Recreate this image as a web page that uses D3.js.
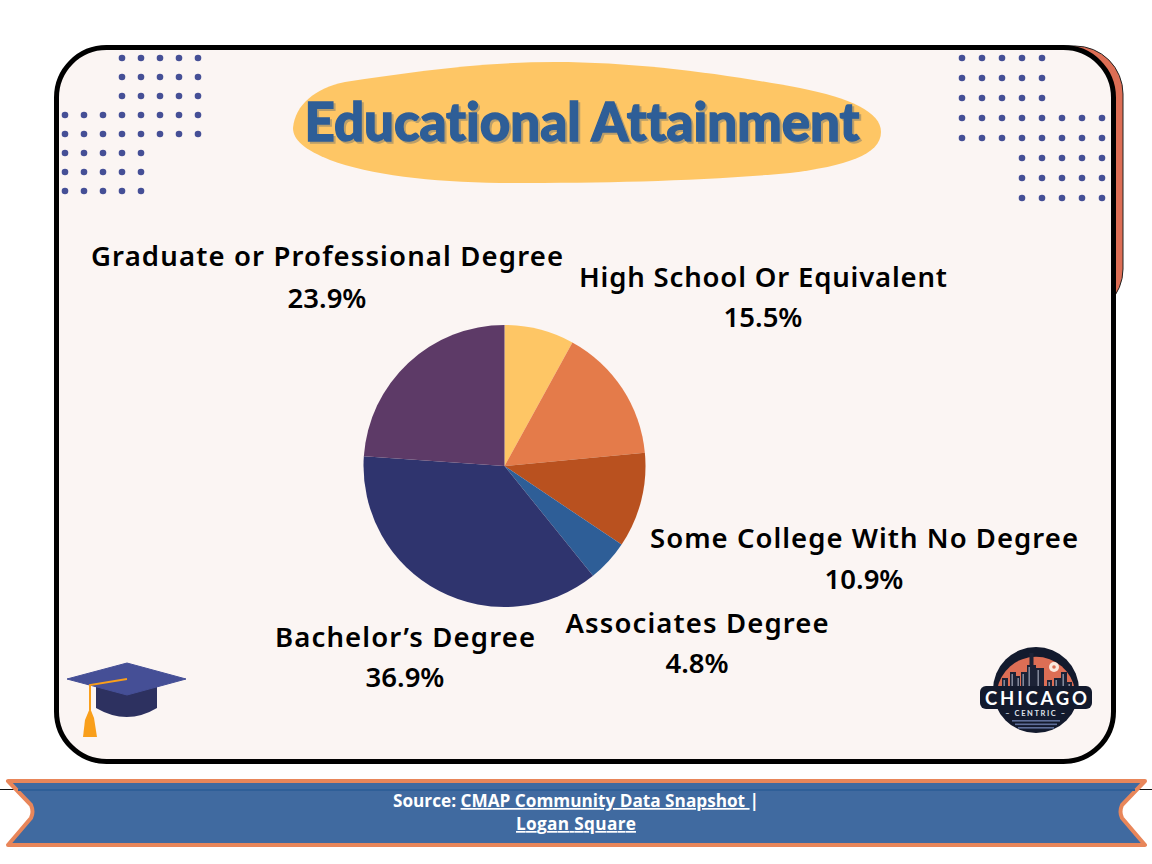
<!DOCTYPE html>
<html>
<head>
<meta charset="utf-8">
<script src="https://cdn.jsdelivr.net/npm/d3@7"></script>
<style>
  html, body { margin: 0; padding: 0; background: #fff; }
  svg { display: block; }
</style>
</head>
<body>
<svg id="chart" width="1152" height="864"></svg>
<script>
const categories = ['Less Than High School', 'High School Or Equivalent', 'Some College With No Degree', 'Associates Degree', 'Bachelor\u2019s Degree', 'Graduate or Professional Degree'];
const shares = [8.0, 15.5, 10.9, 4.8, 36.9, 23.9];
const sliceColors = ['#fec665', '#e47b4a', '#b9511f', '#2e5e97', '#2f346e', '#5d3a67'];
const shownLabels = [false, true, true, true, true, true];

const svg = d3.select('#chart');
const FONT = '"Noto Sans", Lato, sans-serif';

// card behind + card
svg.append('rect').attr('x', 900).attr('y', 46).attr('width', 223).attr('height', 271).attr('rx', 48)
    .attr('fill', '#dd6e55').attr('stroke', '#222').attr('stroke-width', 1);
svg.append('rect').attr('x', 56.5).attr('y', 47.5).attr('width', 1057).attr('height', 714).attr('rx', 50)
    .attr('fill', '#fbf5f3').attr('stroke', '#000').attr('stroke-width', 5);

// dot grids
function dots(x0, y0, step, cells) {
    const x = d3.scaleLinear().domain([0, 1]).range([x0, x0 + step]);
    const y = d3.scaleLinear().domain([0, 1]).range([y0, y0 + step]);
    svg.append('g').selectAll('circle').data(cells).join('circle')
        .attr('cx', d => x(d[1])).attr('cy', d => y(d[0])).attr('r', 3.3).attr('fill', '#454f96');
}
const leftCols = [[3, 7], [3, 7], [3, 7], [0, 7], [0, 7], [0, 4], [0, 4], [0, 4]];
const rightCols = [[0, 4], [0, 4], [0, 4], [0, 7], [0, 7], [3, 7], [3, 7], [3, 7]];
const toCells = cols => cols.flatMap((c, r) => d3.range(c[0], c[1] + 1).map(i => [r, i]));
dots(65, 58, 19, toCells(leftCols));
dots(962, 58, 20, toCells(rightCols));

// title blob
svg.append('path')
    .attr('d', 'M293,128 C295,105 315,88 345,82 C410,72 480,62 555,62 C640,62 730,75 800,88 C850,98 881,112 881,132 C881,155 845,166 790,173 C700,181 610,183 500,183 C430,182 370,175 330,160 C305,150 293,140 293,128 Z')
    .attr('fill', '#fec665');

svg.append('text').attr('x', 582).attr('y', 141)
    .attr('text-anchor', 'middle').attr('font-family', 'Lato, sans-serif').attr('font-weight', 900)
    .attr('font-size', 53).attr('textLength', 555).attr('lengthAdjust', 'spacingAndGlyphs')
    .attr('fill', '#2e5e97').attr('stroke', '#2e5e97').attr('stroke-width', 1.3)
    .style('font-variant-ligatures', 'none')
    .style('filter', 'drop-shadow(2.5px 2.5px 0 rgba(130,125,110,0.55))')
    .text('Educational Attainment');

// pie
const pie = d3.pie().sort(null).value(d => d)(shares);
const arc = d3.arc().innerRadius(0).outerRadius(141);
svg.append('g').attr('transform', 'translate(504.5,466)')
    .selectAll('path').data(pie).join('path')
    .attr('d', arc).attr('fill', (d, i) => sliceColors[i]);

// labels
const labelSpots = [null, [763, 287, 327], [864, 548, 589], [697, 633, 673], [405, 647, 687], [327, 266, 308]];
const labelWidths = [0, 368, 428, 263, 260, 472];
const labels = svg.append('g').attr('font-family', FONT).attr('font-weight', 600).attr('font-size', 27.5)
    .attr('text-anchor', 'middle').attr('fill', '#000');
categories.forEach((c, i) => {
    if (!shownLabels[i]) return;
    const p = labelSpots[i];
    labels.append('text').attr('x', p[0]).attr('y', p[1]).attr('textLength', labelWidths[i]).text(c);
    labels.append('text').attr('x', p[0]).attr('y', p[2]).text(shares[i].toFixed(1) + '%');
});

// grad cap
const cap = svg.append('g');
cap.append('path').attr('d', 'M96,686 L157,686 L157,708 Q127,726 96,708 Z').attr('fill', '#2d3160');
cap.append('path').attr('d', 'M67,679 L127,663 L186,679 L127,695 Z').attr('fill', '#454f96')
    .attr('stroke', '#454f96').attr('stroke-width', 1).attr('stroke-linejoin', 'round');
cap.append('path').attr('d', 'M127,679 L90,685 L90,710').attr('fill', 'none').attr('stroke', '#f99f1b').attr('stroke-width', 2);
cap.append('path').attr('d', 'M90,708 L94,718 L97,737 L83,737 L85,720 Z').attr('fill', '#f99f1b');

// logo
const logo = svg.append('g');
logo.append('circle').attr('cx', 1036).attr('cy', 690).attr('r', 43).attr('fill', '#131a2d');
logo.append('path').attr('d', 'M997,690 A39.5,39.5 0 0 1 1075,690 Z').attr('fill', '#dd6e55');
const towers = [[1002, 678, 6], [1010, 672, 6], [1016, 676, 4], [1021, 672, 6], [1027, 665, 9], [1036, 668, 8], [1047, 680, 5], [1054, 678, 7], [1061, 672, 6], [1067, 682, 5]];
logo.append('g').selectAll('rect').data(towers).join('rect')
    .attr('x', d => d[0]).attr('y', d => d[1]).attr('width', d => d[2]).attr('height', d => 688 - d[1]).attr('fill', '#1c2236');
logo.append('g').selectAll('rect').data(towers).join('rect')
    .attr('x', d => d[0] + 1.5).attr('y', d => d[1] + 2).attr('width', 1.4).attr('height', d => 686 - d[1] - 2).attr('fill', '#8d93a5');
logo.append('rect').attr('x', 1029.5).attr('y', 653).attr('width', 4).attr('height', 14).attr('fill', '#1c2236');
logo.append('circle').attr('cx', 1054).attr('cy', 667).attr('r', 5).attr('fill', '#fbe9df');
logo.append('circle').attr('cx', 1054).attr('cy', 667).attr('r', 1.8).attr('fill', '#dd6e55');
logo.append('rect').attr('x', 980).attr('y', 686).attr('width', 112).attr('height', 23).attr('rx', 6).attr('fill', '#131a2d');
logo.append('text').attr('x', 1036).attr('y', 705).attr('text-anchor', 'middle').attr('font-family', 'Lato, sans-serif').attr('font-weight', 700)
    .attr('font-size', 18.5).attr('textLength', 102).attr('fill', '#fff').text('CHICAGO');
logo.append('text').attr('x', 1036).attr('y', 715.5).attr('text-anchor', 'middle').attr('font-family', 'Lato, sans-serif').attr('font-weight', 700)
    .attr('font-size', 7.5).attr('letter-spacing', 1.6).attr('fill', '#dfe3ea').text('– CENTRIC –');
[720, 723.5, 727].forEach((y, i) => {
    logo.append('rect').attr('x', 1012 + i * 3).attr('y', y).attr('width', 48 - i * 6).attr('height', 1.6).attr('fill', '#5f6f9a');
});

// footer ribbon
svg.append('rect').attr('x', 0).attr('y', 789).attr('width', 1152).attr('height', 1).attr('fill', '#111');
svg.append('path').attr('d', 'M8,781 L1145,781 L1122,805 Q1119,812 1122,818 L1145,845 L8,845 L31,818 Q34,812 31,805 Z')
    .attr('fill', '#406aa0').attr('stroke', '#e8865a').attr('stroke-width', 4).attr('stroke-linejoin', 'round');
svg.append('rect').attr('x', 18).attr('y', 789).attr('width', 1117).attr('height', 2).attr('fill', '#2f5f98');

const foot = svg.append('g').attr('font-family', '"Open Sans", sans-serif').attr('font-weight', 700).attr('font-size', 17.2)
    .attr('text-anchor', 'middle').attr('fill', '#fff');
const line1 = foot.append('text').attr('x', 576).attr('y', 807);
line1.append('tspan').text('Source: ');
line1.append('tspan').attr('text-decoration', 'underline').text('CMAP Community Data Snapshot ');
line1.append('tspan').text('|');
foot.append('text').attr('x', 576).attr('y', 830).attr('textLength', 120).attr('text-decoration', 'underline').text('Logan Square');
</script>
</body>
</html>
